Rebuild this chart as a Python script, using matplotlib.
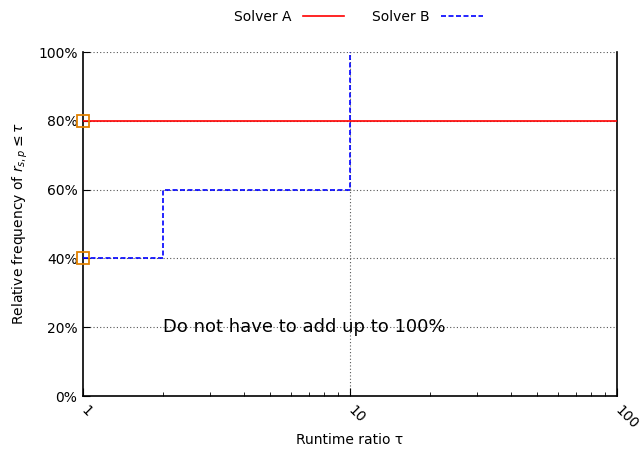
import matplotlib

matplotlib.use("Agg")
import matplotlib.pyplot as plt
from matplotlib.ticker import FixedLocator, LogLocator, NullFormatter

# data
tau_a = [1, 100]
freq_a = [80, 80]
tau_b = [1, 2, 10, 10]
freq_b = [40, 60, 60, 100]
start_tau = [1, 1]
start_freq = [80, 40]

x_ticks = [1, 10, 100]
x_labels = ["1", "10", "100"]
y_ticks = [0, 20, 40, 60, 80, 100]
y_labels = [f"{v}%" for v in y_ticks]

plt.rcParams["font.family"] = ["DejaVu Sans"]
plt.rcParams["mathtext.fontset"] = "dejavusans"

fig = plt.figure(figsize=(6.4, 4.5), dpi=100)
ax = fig.add_axes([83 / 640, 1 - 396 / 450, (617 - 83) / 640, (396 - 52) / 450])

# grid (gnuplot-like dotted)
for y in y_ticks[1:]:
    ax.axhline(y, color="#555555", lw=0.8, ls=(0, (1, 2)), zorder=1)
ax.axvline(10, color="#555555", lw=0.8, ls=(0, (1, 2)), zorder=1)

ax.plot(tau_a, freq_a, color="#ff0000", lw=1.2, label="Solver A", zorder=3)
ax.step(tau_b, freq_b, where="post", color="#0000ff", lw=1.2,
        ls=(0, (3, 1.5)), label="Solver B", zorder=3)
ax.plot(start_tau, start_freq, ls="none", marker="s", ms=8, mfc="none",
        mec="#e08000", mew=1.3, zorder=4, clip_on=False)

ax.set_xscale("log")
ax.set_xlim(1, 100)
ax.set_ylim(0, 100)

ax.xaxis.set_major_locator(FixedLocator(x_ticks))
ax.set_xticklabels(x_labels, rotation=-45, rotation_mode="anchor",
                   ha="left", va="center", fontsize=10)
ax.xaxis.set_minor_locator(LogLocator(base=10, subs=range(2, 10)))
ax.xaxis.set_minor_formatter(NullFormatter())
ax.tick_params(axis="x", which="major", direction="in", length=6, pad=9)
ax.tick_params(axis="x", which="minor", direction="in", length=3)

ax.set_yticks(y_ticks)
ax.set_yticklabels(y_labels, fontsize=10)
ax.tick_params(axis="y", direction="in", length=5, pad=4)

ax.spines["top"].set_visible(False)
for s in ["left", "bottom", "right"]:
    ax.spines[s].set_linewidth(1.2)

ax.set_xlabel("Runtime ratio τ", fontsize=10, labelpad=1)
ax.set_ylabel(r"Relative frequency of $r_{s,p} \leq \tau$", fontsize=10,
              labelpad=6)

ax.text(2.0, 20, "Do not have to add up to 100%", fontsize=13,
        ha="left", va="center", zorder=5)

fig.legend(loc="upper center", bbox_to_anchor=(0.56, 1.005), ncol=2,
           frameon=False, markerfirst=False, fontsize=10, handlelength=3.0,
           columnspacing=2.0)

fig.savefig("out.png", dpi=100)
